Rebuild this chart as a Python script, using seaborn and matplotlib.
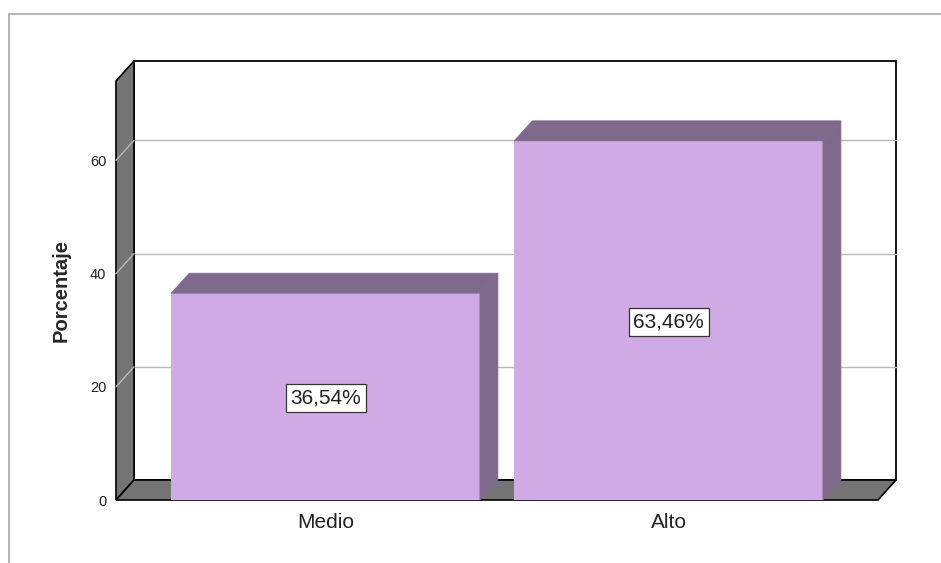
import matplotlib
matplotlib.use('Agg')
import matplotlib.pyplot as plt
from matplotlib.patches import Polygon, Rectangle
from matplotlib.lines import Line2D
import seaborn as sns

# data
categories = ['Medio', 'Alto']
percentages = [36.54, 63.46]
y_ticks = [0, 20, 40, 60]

FACE = '#d0aae4'
SHADE = '#7f6a8c'
WALL = '#747474'
GRID = '#b9b9b9'

sns.set_style('white')
plt.rcParams['font.family'] = ['Liberation Sans', 'DejaVu Sans']

W, H = 941, 563
fig = plt.figure(figsize=(W / 100, H / 100), dpi=100)
# front plane of the 3D box, in pixels
left, right, bottom, top = 116, 878, 500, 81
ax = fig.add_axes([left / W, (H - bottom) / H,
                   (right - left) / W, (bottom - top) / H])

sns.barplot(x=categories, y=percentages, color=FACE, saturation=1,
            width=0.9, ax=ax, zorder=3, linewidth=0)

x0, x1 = -0.611, -0.611 + (right - left) / 343
ymax = (bottom - top) / 5.66
ax.set_xlim(x0, x1)
ax.set_ylim(0, ymax)

# depth offset (px -> data units)
ox = 18 * (x1 - x0) / (right - left)
oy = 20 * ymax / (bottom - top)

# back wall
ax.add_patch(Rectangle((x0 + ox, oy), x1 - x0, ymax, facecolor='white',
                       edgecolor='black', lw=1.3, zorder=0.5, clip_on=False))
# gridlines on back wall and left wall
for g in y_ticks[1:]:
    ax.add_line(Line2D([x0 + ox, x1 + ox], [g + oy, g + oy], color=GRID,
                       lw=1, zorder=0.6, clip_on=False))
# left wall
ax.add_patch(Polygon([(x0, 0), (x0, ymax), (x0 + ox, ymax + oy), (x0 + ox, oy)],
                     closed=True, facecolor=WALL, edgecolor='black', lw=1.2,
                     zorder=0.7, clip_on=False))
for g in y_ticks[1:]:
    ax.add_line(Line2D([x0, x0 + ox], [g, g + oy], color=GRID,
                       lw=1, zorder=0.8, clip_on=False))
# floor
ax.add_patch(Polygon([(x0, 0), (x1, 0), (x1 + ox, oy), (x0 + ox, oy)],
                     closed=True, facecolor=WALL, edgecolor='black', lw=1.2,
                     zorder=0.7, clip_on=False))

# 3D sides of the bars and value labels
for bar, v in zip(ax.patches[:len(percentages)], percentages):
    bx0 = bar.get_x()
    bx1 = bx0 + bar.get_width()
    h = bar.get_height()
    ax.add_patch(Polygon([(bx0, h), (bx1, h), (bx1 + ox, h + oy), (bx0 + ox, h + oy)],
                         closed=True, facecolor=SHADE, edgecolor=SHADE, lw=0.5,
                         zorder=3, clip_on=False))
    ax.add_patch(Polygon([(bx1, 0), (bx1, h), (bx1 + ox, h + oy), (bx1 + ox, oy)],
                         closed=True, facecolor=SHADE, edgecolor=SHADE, lw=0.5,
                         zorder=3, clip_on=False))
    ax.text((bx0 + bx1) / 2, h / 2 - 0.3, f'{v:.2f}%'.replace('.', ','),
            ha='center', va='center', fontsize=15, color='#222222', zorder=5,
            bbox=dict(boxstyle='square,pad=0.22', facecolor='white',
                      edgecolor='#333333', lw=0.9))

for s in ax.spines.values():
    s.set_visible(False)
ax.set_yticks(y_ticks)
ax.tick_params(axis='y', length=0, pad=7, labelsize=10.5, colors='#222222')
ax.tick_params(axis='x', length=0, pad=9, labelsize=15, colors='#222222')
ax.set_xlabel('')
ax.set_ylabel('Porcentaje', fontsize=14.5, fontweight='bold')
ax.yaxis.set_label_coords(-0.059, 0.5)

# outer frame
fig.add_artist(Line2D([9 / W, 1], [1 - 14 / H, 1 - 14 / H], color='#a8a8a8', lw=1.2))
fig.add_artist(Line2D([9 / W, 9 / W], [0, 1 - 14 / H], color='#a8a8a8', lw=1.2))

fig.savefig('out.png', dpi=100)
